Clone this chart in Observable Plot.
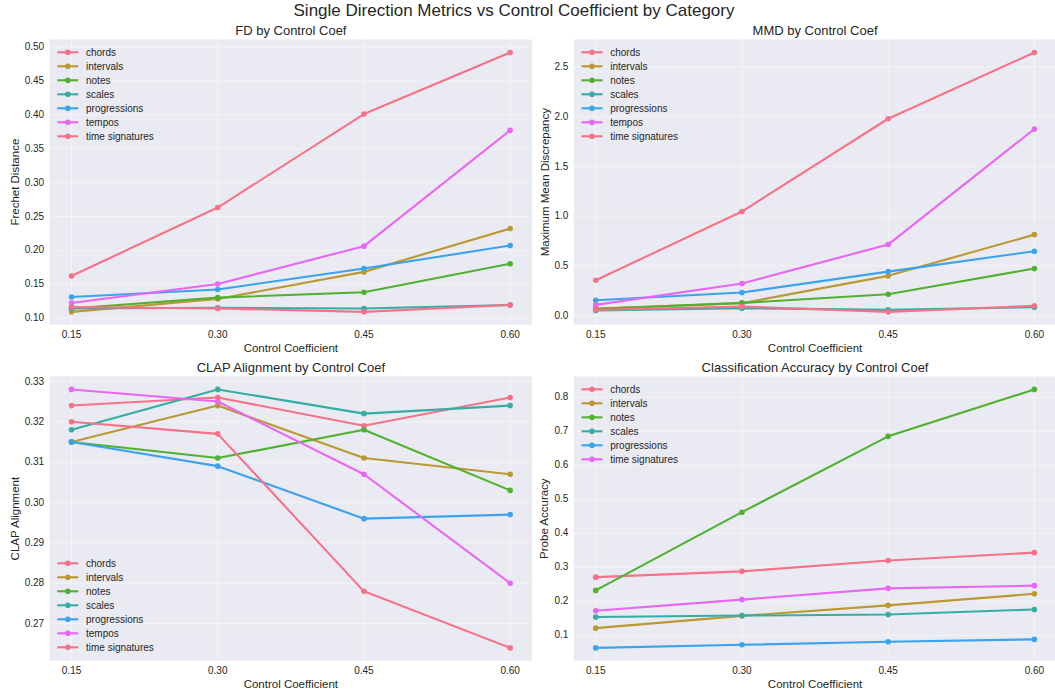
<!DOCTYPE html>
<html>
<head>
<meta charset="utf-8">
<script src="https://cdn.jsdelivr.net/npm/d3@7"></script>
<script src="https://cdn.jsdelivr.net/npm/@observablehq/plot@0.6"></script>
<style>
  html, body { margin: 0; padding: 0; background: #ffffff; overflow: hidden; }
  #page { position: relative; width: 1055px; height: 690px; font-family: "Liberation Sans", Arial, sans-serif; color: #262626; }
  #suptitle { position: absolute; left: 0; top: 0; width: 1028px; text-align: center; font-size: 17px; line-height: 22px; }
  .panel { position: absolute; }
</style>
</head>
<body>
<div id="page">
  <div id="suptitle">Single Direction Metrics vs Control Coefficient by Category</div>
</div>
<script>
// ---------------- data ----------------
const coefs = [0.15, 0.30, 0.45, 0.60];
const xTickLabels = ["0.15", "0.30", "0.45", "0.60"];

const categories = ["chords", "intervals", "notes", "scales", "progressions", "tempos", "time signatures"];
const probeCategories = ["chords", "intervals", "notes", "scales", "progressions", "time signatures"];

// Frechet Distance (rows follow `categories`)
const fdValues = [
  [0.162, 0.263, 0.401, 0.492],
  [0.109, 0.128, 0.168, 0.232],
  [0.114, 0.130, 0.138, 0.180],
  [0.114, 0.115, 0.114, 0.119],
  [0.131, 0.142, 0.173, 0.207],
  [0.122, 0.150, 0.206, 0.377],
  [0.116, 0.114, 0.109, 0.119]
];
// Maximum Mean Discrepancy
const mmdValues = [
  [0.355, 1.046, 1.980, 2.647],
  [0.070, 0.124, 0.399, 0.814],
  [0.064, 0.127, 0.214, 0.473],
  [0.050, 0.074, 0.057, 0.084],
  [0.154, 0.231, 0.442, 0.647],
  [0.107, 0.322, 0.714, 1.877],
  [0.057, 0.090, 0.037, 0.097]
];
// CLAP Alignment
const clapValues = [
  [0.324, 0.326, 0.319, 0.326],
  [0.315, 0.324, 0.311, 0.307],
  [0.315, 0.311, 0.318, 0.303],
  [0.318, 0.328, 0.322, 0.324],
  [0.315, 0.309, 0.296, 0.297],
  [0.328, 0.325, 0.307, 0.280],
  [0.320, 0.317, 0.278, 0.264]
];
// Probe Accuracy (rows follow `probeCategories`)
const accValues = [
  [0.271, 0.288, 0.320, 0.343],
  [0.121, 0.157, 0.188, 0.222],
  [0.232, 0.462, 0.685, 0.823],
  [0.154, 0.158, 0.161, 0.176],
  [0.063, 0.072, 0.081, 0.088],
  [0.172, 0.205, 0.238, 0.246]
];

const fdTicks = [0.10, 0.15, 0.20, 0.25, 0.30, 0.35, 0.40, 0.45, 0.50];
const mmdTicks = [0.0, 0.5, 1.0, 1.5, 2.0, 2.5];
const clapTicks = [0.27, 0.28, 0.29, 0.30, 0.31, 0.32, 0.33];
const accTicks = [0.1, 0.2, 0.3, 0.4, 0.5, 0.6, 0.7, 0.8];

// ---------------- style ----------------
const husl6 = ["#f77189", "#bb9832", "#50b131", "#36ada4", "#3ba3ec", "#e866f4"];
const FONT = '"Liberation Sans", Arial, sans-serif';
const TEXT = "#262626";

function rowsFor(cats, values) {
  const rows = [];
  cats.forEach((c, i) => coefs.forEach((x, j) => rows.push({cat: c, coef: x, value: values[i][j]})));
  return rows;
}

function padDomain(vals) {
  const lo = d3.min(vals), hi = d3.max(vals), m = (hi - lo) * 0.05;
  return [lo - m, hi + m];
}

function panel(opts) {
  const {sx, sy, sw, sh, L, R, T, B, cats, values, yTicks, yFmt, title, ylabel, legendPos} = opts;
  const rows = rowsFor(cats, values);
  const colorOf = c => husl6[cats.indexOf(c) % husl6.length];
  const perSeries = cats.flatMap(c => {
    const d = rows.filter(r => r.cat === c);
    return [
      Plot.line(d, {x: "coef", y: "value", stroke: colorOf(c), strokeWidth: 2.1}),
      Plot.dot(d, {x: "coef", y: "value", fill: colorOf(c), r: 2.8, stroke: null})
    ];
  });
  const svg = Plot.plot({
    width: sw, height: sh,
    marginLeft: L - sx, marginRight: sx + sw - R,
    marginTop: T - sy, marginBottom: sy + sh - B,
    style: {fontFamily: FONT, fontSize: "10px", color: TEXT, background: "transparent", overflow: "visible"},
    x: {domain: padDomain(coefs)},
    y: {domain: padDomain(rows.map(r => r.value))},
    marks: [
      Plot.frame({fill: "#eaeaf2", stroke: null}),
      Plot.gridX(coefs, {stroke: "#ffffff", strokeOpacity: 0.45, strokeWidth: 1}),
      Plot.gridY(yTicks, {stroke: "#ffffff", strokeOpacity: 0.45, strokeWidth: 1}),
      Plot.axisX(coefs, {tickSize: 0, tickPadding: 6, tickFormat: d => xTickLabels[coefs.indexOf(d)], label: null, fill: TEXT}),
      Plot.axisY(yTicks, {tickSize: 0, tickPadding: 5.5, tickFormat: yFmt, label: null, fill: TEXT}),
      ...perSeries,
      Plot.text([title], {frameAnchor: "top", dy: -8.5, lineAnchor: "middle", textAnchor: "middle", text: d => d, fontSize: 13, fill: TEXT}),
      Plot.text(["Control Coefficient"], {frameAnchor: "bottom", dy: 23.4, lineAnchor: "middle", textAnchor: "middle", text: d => d, fontSize: 11.5, fill: TEXT}),
      Plot.text([ylabel], {frameAnchor: "left", dx: opts.ylabelDx, rotate: -90, lineAnchor: "middle", textAnchor: "middle", text: d => d, fontSize: 11.5, fill: TEXT})
    ]
  });
  // legend (matplotlib-style, inside axes)
  const g = d3.select(svg).append("g")
    .attr("font-family", FONT).attr("font-size", 10).attr("fill", TEXT).attr("text-anchor", "start");
  const fx = L - sx, fy = T - sy, fb = sy + sh - B;
  const y0 = legendPos === "upper left" ? fy + 13.3 : (sh - fb) - 13 - (cats.length - 1) * 14;
  cats.forEach((c, i) => {
    const y = y0 + i * 14;
    const col = colorOf(c);
    g.append("line").attr("x1", fx + 8.2).attr("x2", fx + 29.2).attr("y1", y).attr("y2", y)
      .attr("stroke", col).attr("stroke-width", 2.1);
    g.append("circle").attr("cx", fx + 18.7).attr("cy", y).attr("r", 2.8).attr("fill", col);
    g.append("text").attr("x", fx + 36.9).attr("y", y).attr("dy", "0.35em").attr("text-anchor", "start").text(c);
  });
  svg.classList.add("panel");
  svg.style.left = sx + "px";
  svg.style.top = sy + "px";
  document.getElementById("page").appendChild(svg);
}

const f2 = d3.format(".2f"), f1 = d3.format(".1f");

panel({sx: 0, sy: 20, sw: 540, sh: 335, L: 49.1, R: 531.6, T: 39, B: 324.3,
  cats: categories, values: fdValues, yTicks: fdTicks, yFmt: f2,
  title: "FD by Control Coef", ylabel: "Frechet Distance", ylabelDx: -34, legendPos: "upper left"});
panel({sx: 540, sy: 20, sw: 516, sh: 335, L: 573.3, R: 1055.8, T: 39, B: 324.3,
  cats: categories, values: mmdValues, yTicks: mmdTicks, yFmt: f1,
  title: "MMD by Control Coef", ylabel: "Maximum Mean Discrepancy", ylabelDx: -28.8, legendPos: "upper left"});
panel({sx: 0, sy: 355, sw: 540, sh: 335, L: 49.1, R: 531.6, T: 376, B: 660.3,
  cats: categories, values: clapValues, yTicks: clapTicks, yFmt: f2,
  title: "CLAP Alignment by Control Coef", ylabel: "CLAP Alignment", ylabelDx: -34, legendPos: "lower left"});
panel({sx: 540, sy: 355, sw: 516, sh: 335, L: 573.3, R: 1055.8, T: 376, B: 660.3,
  cats: probeCategories, values: accValues, yTicks: accTicks, yFmt: f1,
  title: "Classification Accuracy by Control Coef", ylabel: "Probe Accuracy", ylabelDx: -29.3, legendPos: "upper left"});
</script>
</body>
</html>
